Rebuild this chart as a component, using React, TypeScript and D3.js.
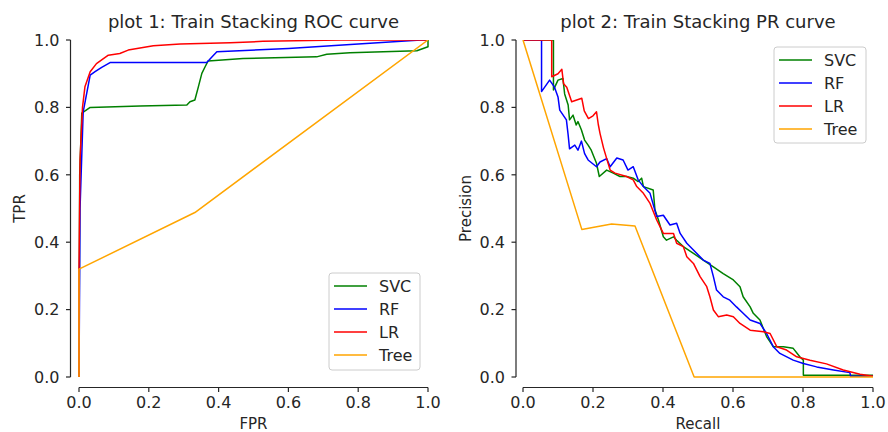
import React from "react";
import * as d3 from "d3";

// ROC curves: [fpr, tpr]
const rocSvc: [number, number][] = [
  [0, 0], [0.002, 0.6], [0.008, 0.783], [0.032, 0.8], [0.175, 0.804], [0.309, 0.807],
  [0.318, 0.817], [0.332, 0.822], [0.342, 0.861], [0.352, 0.901], [0.361, 0.92],
  [0.37, 0.938], [0.47, 0.945], [0.681, 0.95], [0.71, 0.958], [0.776, 0.962],
  [0.968, 0.968], [0.986, 0.975], [1.0, 0.98], [1, 1],
];
const rocRf: [number, number][] = [
  [0, 0], [0.003, 0.5], [0.012, 0.787], [0.032, 0.896], [0.046, 0.906], [0.065, 0.919],
  [0.089, 0.933], [0.366, 0.933], [0.395, 0.965], [0.6, 0.975], [0.8, 0.988],
  [0.98, 1.0], [1, 1],
];
const rocLr: [number, number][] = [
  [0, 0], [0, 0.32], [0.003, 0.644], [0.01, 0.8], [0.017, 0.861], [0.032, 0.906],
  [0.05, 0.93], [0.084, 0.955], [0.117, 0.96], [0.141, 0.97], [0.213, 0.983],
  [0.29, 0.988], [0.433, 0.992], [0.527, 0.996], [0.748, 1.0], [1, 1],
];
const rocTree: [number, number][] = [[0, 0], [0, 0.32], [0.332, 0.488], [1, 1]];

// PR curves: [recall, precision]
const prSvc: [number, number][] = [
  [0, 1], [0.087, 1], [0.087, 0.852], [0.1, 0.881], [0.114, 0.886], [0.119, 0.84],
  [0.129, 0.807], [0.133, 0.763], [0.143, 0.777], [0.152, 0.748], [0.157, 0.758],
  [0.167, 0.733], [0.176, 0.703], [0.186, 0.688], [0.195, 0.673], [0.21, 0.634],
  [0.218, 0.595], [0.239, 0.614], [0.258, 0.605], [0.277, 0.595], [0.296, 0.595],
  [0.315, 0.59], [0.329, 0.58], [0.339, 0.59], [0.344, 0.565], [0.372, 0.555],
  [0.377, 0.496], [0.387, 0.466], [0.401, 0.416], [0.41, 0.406], [0.43, 0.416],
  [0.439, 0.406], [0.458, 0.387], [0.487, 0.367], [0.515, 0.347], [0.544, 0.327],
  [0.572, 0.307], [0.601, 0.288], [0.62, 0.268], [0.629, 0.238], [0.649, 0.208],
  [0.658, 0.189], [0.677, 0.169], [0.696, 0.12], [0.715, 0.09], [0.744, 0.09],
  [0.772, 0.085], [0.791, 0.06], [0.801, 0.05], [0.801, 0.005], [1, 0.005],
];
const prRf: [number, number][] = [
  [0, 1], [0.053, 1], [0.053, 0.847], [0.076, 0.881], [0.09, 0.86], [0.1, 0.831],
  [0.105, 0.792], [0.124, 0.763], [0.129, 0.718], [0.133, 0.677], [0.148, 0.688],
  [0.157, 0.673], [0.167, 0.7], [0.176, 0.663], [0.186, 0.644], [0.21, 0.624],
  [0.22, 0.638], [0.239, 0.648], [0.249, 0.624], [0.268, 0.65], [0.286, 0.644],
  [0.3, 0.614], [0.315, 0.624], [0.329, 0.585], [0.344, 0.565], [0.363, 0.545],
  [0.382, 0.476], [0.401, 0.48], [0.42, 0.451], [0.439, 0.456], [0.449, 0.426],
  [0.468, 0.397], [0.487, 0.377], [0.515, 0.347], [0.534, 0.337], [0.544, 0.298],
  [0.553, 0.258], [0.572, 0.238], [0.591, 0.228], [0.61, 0.208], [0.629, 0.189],
  [0.649, 0.169], [0.677, 0.159], [0.696, 0.129], [0.715, 0.09], [0.734, 0.07],
  [0.772, 0.05], [0.801, 0.04], [0.839, 0.03], [0.887, 0.021], [0.934, 0.013],
  [0.936, 0.002], [1, 0.002],
];
const prLr: [number, number][] = [
  [0, 1], [0.082, 1], [0.082, 0.891], [0.1, 0.9], [0.111, 0.913], [0.116, 0.87],
  [0.125, 0.86], [0.133, 0.835], [0.139, 0.817], [0.168, 0.827], [0.175, 0.79],
  [0.187, 0.767], [0.2, 0.775], [0.21, 0.787], [0.215, 0.75], [0.22, 0.723],
  [0.23, 0.68], [0.24, 0.645], [0.249, 0.614], [0.263, 0.605], [0.296, 0.595],
  [0.315, 0.585], [0.325, 0.565], [0.344, 0.545], [0.363, 0.515], [0.382, 0.466],
  [0.401, 0.426], [0.43, 0.426], [0.439, 0.397], [0.458, 0.387], [0.468, 0.357],
  [0.487, 0.337], [0.506, 0.298], [0.525, 0.268], [0.534, 0.238], [0.544, 0.199],
  [0.558, 0.179], [0.582, 0.184], [0.601, 0.179], [0.62, 0.159], [0.649, 0.139],
  [0.687, 0.134], [0.706, 0.129], [0.725, 0.09], [0.753, 0.08], [0.782, 0.06],
  [0.82, 0.05], [0.867, 0.039], [0.915, 0.021], [0.963, 0.008], [1, 0.002],
];
const prTree: [number, number][] = [
  [0, 1], [0.168, 0.438], [0.253, 0.454], [0.32, 0.448], [0.489, 0], [1, 0],
];

const seriesNames = ["SVC", "RF", "LR", "Tree"];
const seriesColors = ["#008000", "#0000ff", "#ff0000", "#ffa500"];
const ticks = [0, 0.2, 0.4, 0.6, 0.8, 1.0];

const INK = "#262626";
const FONT = "DejaVu Sans, sans-serif";

type PanelProps = {
  id: string;
  x0: number;
  x1: number;
  spineX: number;
  title: string;
  xLabel: string;
  yLabel: string;
  yLabelX: number;
  curves: [number, number][][];
  legend: { x: number; y: number; w: number; h: number };
};

function Panel(p: PanelProps) {
  const yTop = 40;
  const yBot = 377;
  const xAxisY = 387.5;
  const x = d3.scaleLinear().domain([0, 1]).range([p.x0, p.x1]);
  const y = d3.scaleLinear().domain([0, 1]).range([yBot, yTop]);
  const line = d3
    .line<[number, number]>()
    .x((d) => x(d[0]))
    .y((d) => y(d[1]));
  const fmt = d3.format(".1f");
  return (
    <g>
      <defs>
        <clipPath id={p.id}>
          <rect x={p.x0 - 2} y={yTop} width={p.x1 - p.x0 + 4} height={yBot - yTop + 2} />
        </clipPath>
      </defs>
      <text x={(p.x0 + p.x1) / 2} y={28} textAnchor="middle" fontSize={18} fill={INK} fontFamily={FONT}>
        {p.title}
      </text>
      {/* curves */}
      <g clipPath={`url(#${p.id})`}>
        {p.curves.map((c, i) => (
          <path key={i} d={line(c) || ""} fill="none" stroke={seriesColors[i]} strokeWidth={1.5} strokeLinejoin="round" />
        ))}
      </g>
      {/* y axis */}
      <line x1={p.spineX} x2={p.spineX} y1={y(1)} y2={y(0)} stroke={INK} strokeWidth={1.2} />
      {ticks.map((t) => (
        <g key={"y" + t}>
          <line x1={p.spineX - 4.5} x2={p.spineX} y1={y(t)} y2={y(t)} stroke={INK} strokeWidth={1.2} />
          <text x={p.spineX - 11} y={y(t)} dy="0.36em" textAnchor="end" fontSize={16} fill={INK} fontFamily={FONT}>
            {fmt(t)}
          </text>
        </g>
      ))}
      <text
        transform={`translate(${p.yLabelX},${(yTop + yBot) / 2}) rotate(-90)`}
        textAnchor="middle"
        dy="0.36em"
        fontSize={15}
        fill={INK}
        fontFamily={FONT}
      >
        {p.yLabel}
      </text>
      {/* x axis */}
      <line x1={x(0)} x2={x(1)} y1={xAxisY} y2={xAxisY} stroke={INK} strokeWidth={1.2} />
      {ticks.map((t) => (
        <g key={"x" + t}>
          <line x1={x(t)} x2={x(t)} y1={xAxisY} y2={xAxisY + 4.5} stroke={INK} strokeWidth={1.2} />
          <text x={x(t)} y={408} textAnchor="middle" fontSize={16} fill={INK} fontFamily={FONT}>
            {fmt(t)}
          </text>
        </g>
      ))}
      <text x={(p.x0 + p.x1) / 2} y={429} textAnchor="middle" fontSize={15} fill={INK} fontFamily={FONT}>
        {p.xLabel}
      </text>
      {/* legend */}
      <rect
        x={p.legend.x}
        y={p.legend.y}
        width={p.legend.w}
        height={p.legend.h}
        rx={3}
        fill="#ffffff"
        fillOpacity={0.8}
        stroke="#cccccc"
        strokeWidth={1}
      />
      {seriesNames.map((n, i) => {
        const ry = p.legend.y + 13 + i * 23;
        return (
          <g key={n}>
            <line x1={p.legend.x + 5} x2={p.legend.x + 38} y1={ry} y2={ry} stroke={seriesColors[i]} strokeWidth={1.5} />
            <text x={p.legend.x + 50} y={ry} dy="0.36em" fontSize={16} fill={INK} fontFamily={FONT}>
              {n}
            </text>
          </g>
        );
      })}
    </g>
  );
}

export default function App() {
  return (
    <svg width={888} height={432} style={{ position: "absolute", left: 0, top: 0, background: "#fff" }}>
      <rect width={888} height={432} fill="#fff" />
      <Panel
        id="clip-roc"
        x0={79}
        x1={428}
        spineX={70.5}
        title="plot 1: Train Stacking ROC curve"
        xLabel="FPR"
        yLabel="TPR"
        yLabelX={20}
        curves={[rocSvc, rocRf, rocLr, rocTree]}
        legend={{ x: 329, y: 273, w: 91, h: 97 }}
      />
      <Panel
        id="clip-pr"
        x0={523}
        x1={873}
        spineX={516}
        title="plot 2: Train Stacking PR curve"
        xLabel="Recall"
        yLabel="Precision"
        yLabelX={466}
        curves={[prSvc, prRf, prLr, prTree]}
        legend={{ x: 774, y: 47, w: 92, h: 96 }}
      />
    </svg>
  );
}
